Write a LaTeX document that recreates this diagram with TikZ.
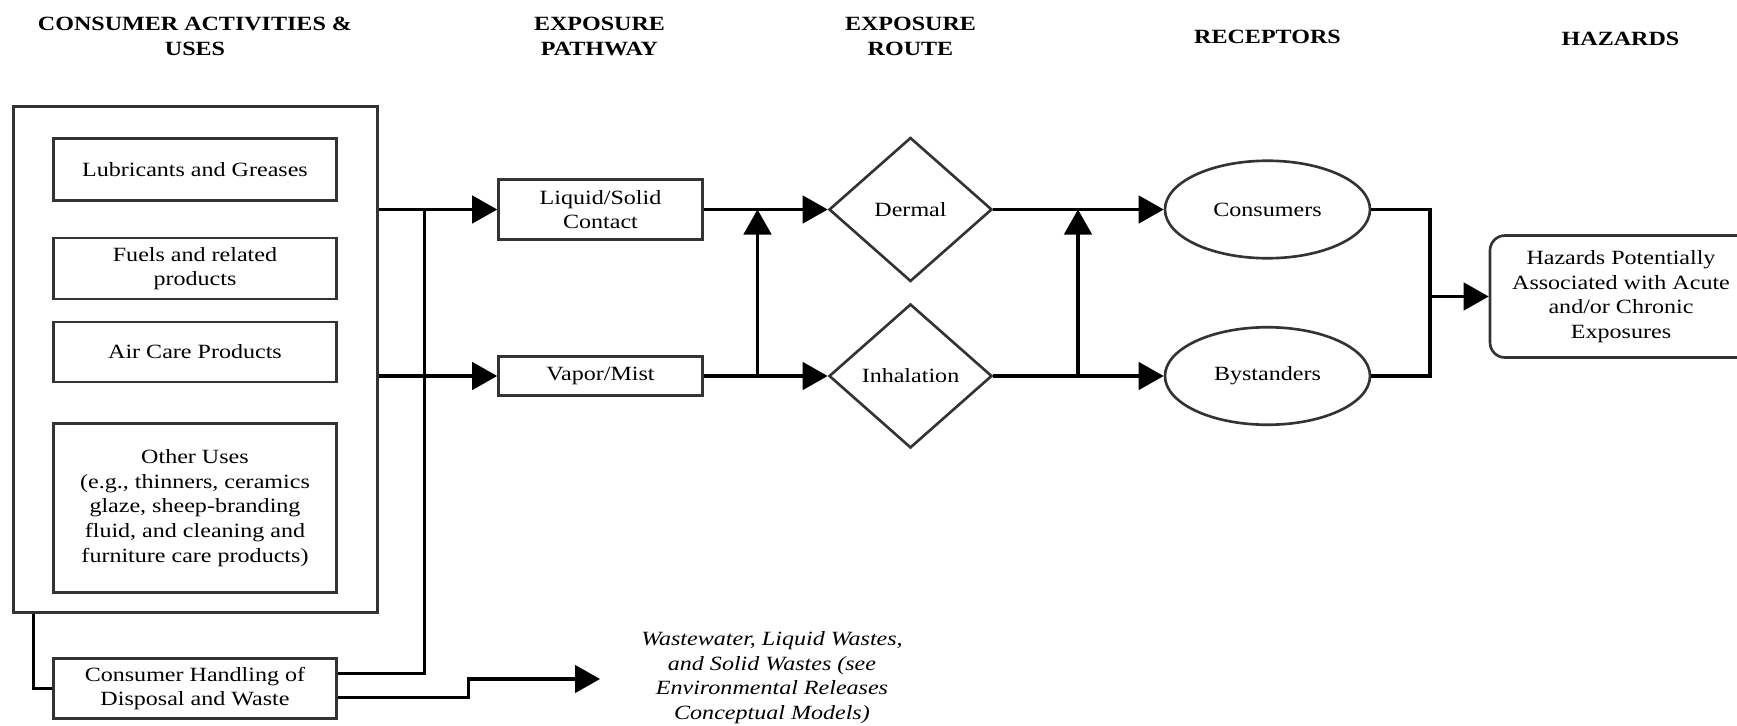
\documentclass[tikz,border=0pt]{standalone}
\usepackage{fontspec}
\setmainfont{Liberation Serif}[FakeStretch=1.19]
\usetikzlibrary{arrows.meta,shapes.geometric}
\begin{document}
\begin{tikzpicture}[line width=1.8pt,
    font=\fontsize{11.5}{14}\selectfont,
    box/.style={draw=black!80,line width=1.5pt,align=center,inner sep=0pt},
    arr/.style={-{Triangle[length=0.5cm,width=0.55cm]}},
    title/.style={font=\fontsize{11.5}{14}\selectfont\bfseries,align=center}]
\useasboundingbox (0,0) rectangle (34.74,-14.52);
% column titles
\node[title] (tuses) at (3.90,-0.73) {CONSUMER ACTIVITIES \&\\USES};
\node[title] (tpath) at (11.99,-0.73) {EXPOSURE\\PATHWAY};
\node[title] (troute) at (18.21,-0.73) {EXPOSURE\\ROUTE};
\node[title] (trec) at (25.35,-0.73) {RECEPTORS};
\node[title] (thaz) at (32.41,-0.78) {HAZARDS};
% consumer uses
\node[box,minimum width=7.29cm,minimum height=10.12cm] (uses) at (3.91,-7.19) {};
\node[box,minimum width=5.67cm,minimum height=1.24cm] (lub) at (3.90,-3.39) {Lubricants and Greases};
\node[box,minimum width=5.67cm,minimum height=1.22cm] (fuel) at (3.90,-5.37) {Fuels and related\\products};
\node[box,minimum width=5.67cm,minimum height=1.20cm] (air) at (3.90,-7.04) {Air Care Products};
\node[box,minimum width=5.67cm,minimum height=3.39cm] (other) at (3.90,-10.16) {Other Uses\\(e.g., thinners, ceramics\\glaze, sheep-branding\\fluid, and cleaning and\\furniture care products)};
\node[box,minimum width=5.67cm,minimum height=1.20cm] (handl) at (3.90,-13.77) {Consumer Handling of\\Disposal and Waste};
% pathways
\node[box,minimum width=4.08cm,minimum height=1.20cm] (liquid) at (12.01,-4.19) {Liquid/Solid\\Contact};
\node[box,minimum width=4.08cm,minimum height=0.78cm] (vapor) at (12.01,-7.52) {Vapor/Mist};
% routes
\node[box,diamond,minimum width=3.26cm,minimum height=2.88cm] (dermal) at (18.21,-4.19) {Dermal};
\node[box,diamond,minimum width=3.26cm,minimum height=2.88cm] (inhal) at (18.21,-7.52) {Inhalation};
% receptors
\node[box,ellipse,minimum width=4.10cm,minimum height=1.95cm] (cons) at (25.35,-4.19) {Consumers};
\node[box,ellipse,minimum width=4.10cm,minimum height=1.95cm] (byst) at (25.35,-7.52) {Bystanders};
% hazards
\node[box,rounded corners=0.3cm,minimum width=5.24cm,minimum height=2.44cm] (haz) at (32.42,-5.93) {Hazards Potentially\\Associated with Acute\\and/or Chronic\\Exposures};
\node[font=\fontsize{11.5}{14}\selectfont\itshape,align=center] (waste) at (15.44,-13.55) {Wastewater, Liquid Wastes,\\and Solid Wastes (see\\Environmental Releases\\Conceptual Models)};
\coordinate (bus) at (8.49,-4.19);
\coordinate (step) at (9.37,-13.58);
\coordinate (wend) at (12.0,-13.58);
\coordinate (j1) at (15.15,-7.52);
\coordinate (j2) at (21.56,-7.52);
\coordinate (rb) at (28.60,-5.93);
\draw ([xshift=0.43cm]uses.south west) |- (handl.west);
\draw[arr] (uses.east |- liquid) -- (liquid.west);
\draw[arr] (uses.east |- vapor) -- (vapor.west);
\draw ([yshift=0.3cm]handl.east) -| (bus);
\draw[arr] ([yshift=-0.18cm]handl.east) -| (step) -- (wend);
\draw[arr] (liquid.east) -- (dermal.west);
\draw[arr] (vapor.east) -- (inhal.west);
\draw[arr] (j1) -- (j1 |- liquid.east);
\draw[arr] (dermal.east) -- (cons.west);
\draw[arr] (inhal.east) -- (byst.west);
\draw[arr] (j2) -- (j2 |- dermal.east);
\draw (cons.east) -| (rb) |- (byst.east);
\draw[arr] (rb) -- (haz.west);
\end{tikzpicture}
\end{document}
